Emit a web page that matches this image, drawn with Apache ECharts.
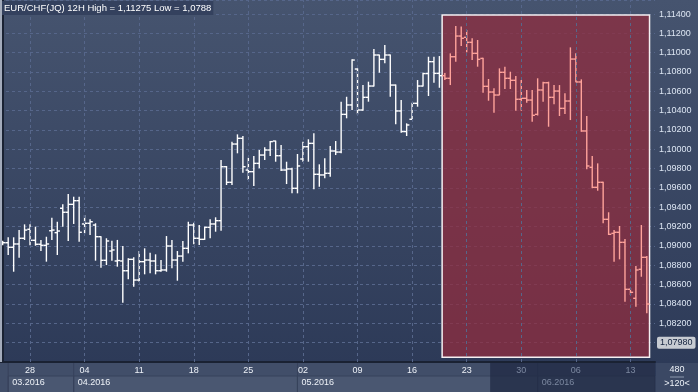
<!DOCTYPE html>
<html><head><meta charset="utf-8">
<script src="https://cdn.jsdelivr.net/npm/echarts@6/dist/echarts.min.js"></script>
<style>html,body{margin:0;padding:0;background:#33405d;}#c{width:698px;height:392px;}</style>
</head><body><div id="c"></div>
<script>
// ---- data (12H bars, EUR/CHF) ----
const tickIdx = [5,15,25,35,45,55,65,75,85,95,105,115];
const tickLabels = ['28','04','11','18','25','02','09','16','23','30','06','13'];
const monthIdx = [1,13,54,98];
const monthLabels = ['03.2016','04.2016','05.2016','06.2016'];
const open = [1.09028,1.09034,1.08987,1.09021,1.09080,1.09173,1.09059,1.09018,1.09007,1.09158,
1.09138,1.09390,1.09349,1.09431,1.09469,1.09228,1.09235,1.09217,1.09096,1.08852,
1.08948,1.08845,1.08845,1.08744,1.08862,1.08648,1.08838,1.08855,1.08845,1.08744,
1.08752,1.09000,1.08855,1.08896,1.08976,1.09217,1.09080,1.09069,1.09193,1.09228,
1.09262,1.09820,1.09659,1.10055,1.10114,1.09786,1.09769,1.09855,1.09941,1.09993,
1.10086,1.09934,1.09786,1.09797,1.09597,1.09900,1.10027,1.10062,1.09742,1.09735,
1.09752,1.09983,1.09972,1.10362,1.10459,1.10831,1.10407,1.10538,1.10655,1.10976,
1.10931,1.10976,1.10665,1.10397,1.10184,1.10311,1.10476,1.10655,1.10784,1.10907,
1.10786,1.10762,1.10735,1.10958,1.11172,1.11159,1.11107,1.10993,1.10941,1.10652,
1.10593,1.10562,1.10797,1.10735,1.10714,1.10518,1.10528,1.10510,1.10362,1.10614,
1.10689,1.10538,1.10603,1.10424,1.10500,1.10934,1.10697,1.10190,1.09814,1.09607,
1.09659,1.09276,1.09131,1.09142,1.09038,1.08552,1.08459,1.08759,1.08883];
const high = [1.09055,1.09090,1.09090,1.09165,1.09224,1.09224,1.09200,1.09063,1.09096,1.09293,
1.09251,1.09431,1.09538,1.09510,1.09510,1.09321,1.09276,1.09235,1.09100,1.09080,
1.09055,1.09063,1.09000,1.08873,1.08883,1.08948,1.08976,1.08931,1.08914,1.08855,
1.09103,1.09063,1.08948,1.09052,1.09251,1.09241,1.09217,1.09200,1.09276,1.09297,
1.09890,1.09828,1.10079,1.10155,1.10138,1.09913,1.09931,1.09993,1.10021,1.10086,
1.10090,1.10045,1.09872,1.09810,1.09952,1.10079,1.10104,1.10166,1.09845,1.09907,
1.10034,1.10086,1.10493,1.10544,1.10931,1.10838,1.10665,1.10700,1.11038,1.10980,
1.11079,1.10980,1.10670,1.10510,1.10269,1.10482,1.10717,1.10793,1.10958,1.10958,
1.10965,1.10790,1.10993,1.11275,1.11270,1.11234,1.11149,1.11131,1.10948,1.10728,
1.10631,1.10838,1.10855,1.10803,1.10759,1.10717,1.10614,1.10614,1.10735,1.10700,
1.10700,1.10665,1.10665,1.10580,1.11055,1.10993,1.10724,1.10345,1.09931,1.09855,
1.09665,1.09349,1.09165,1.09207,1.09072,1.08565,1.08793,1.09217,1.08896];
const low = [1.09007,1.08907,1.08734,1.08879,1.09062,1.09007,1.09003,1.08948,1.08838,1.09063,
1.08907,1.09200,1.09052,1.09228,1.09044,1.09131,1.09114,1.08848,1.08775,1.08803,
1.08848,1.08786,1.08413,1.08655,1.08579,1.08631,1.08707,1.08718,1.08707,1.08734,
1.08734,1.08769,1.08641,1.08838,1.08924,1.09018,1.09010,1.09063,1.09080,1.09148,
1.09158,1.09631,1.09631,1.09959,1.09758,1.09683,1.09621,1.09804,1.09890,1.09931,
1.09872,1.09776,1.09641,1.09545,1.09545,1.09872,1.09872,1.09586,1.09613,1.09700,
1.09717,1.09941,1.09960,1.10321,1.10407,1.10362,1.10400,1.10493,1.10650,1.10793,
1.10890,1.10544,1.10259,1.10172,1.10138,1.10305,1.10441,1.10650,1.10552,1.10689,
1.10637,1.10717,1.10665,1.10907,1.11069,1.11004,1.10924,1.10855,1.10586,1.10503,
1.10379,1.10560,1.10624,1.10624,1.10400,1.10400,1.10482,1.10286,1.10350,1.10493,
1.10234,1.10466,1.10345,1.10366,1.10303,1.10693,1.10182,1.09793,1.09597,1.09572,
1.09235,1.09114,1.08838,1.08862,1.08424,1.08493,1.08372,1.08682,1.08304];
const close = [1.09034,1.08987,1.09021,1.09080,1.09165,1.09059,1.09018,1.09007,1.09021,1.09165,
1.09155,1.09349,1.09431,1.09469,1.09142,1.09235,1.09251,1.09096,1.08852,1.09052,
1.08959,1.08850,1.08744,1.08862,1.08648,1.08838,1.08855,1.08845,1.08744,1.08752,
1.09000,1.08855,1.08896,1.08976,1.09217,1.09080,1.09069,1.09193,1.09228,1.09262,
1.09820,1.09659,1.10055,1.10114,1.09820,1.09769,1.09855,1.09941,1.09993,1.10080,
1.09934,1.09786,1.09797,1.09597,1.09828,1.10027,1.10062,1.09742,1.09735,1.09752,
1.09983,1.09972,1.10362,1.10459,1.10924,1.10407,1.10538,1.10655,1.10976,1.10931,
1.10976,1.10665,1.10397,1.10184,1.10252,1.10476,1.10655,1.10784,1.10907,1.10786,
1.10762,1.10735,1.10958,1.11172,1.11149,1.11107,1.10993,1.10931,1.10652,1.10593,
1.10562,1.10797,1.10735,1.10714,1.10518,1.10528,1.10510,1.10352,1.10614,1.10689,
1.10538,1.10603,1.10424,1.10500,1.10934,1.10697,1.10190,1.09828,1.09607,1.09659,
1.09276,1.09121,1.09142,1.09038,1.08552,1.08521,1.08752,1.08883,1.08400];
const lastPrice = 1.0798;
const zone = { from: 80.5, to: 118.5, top: 1.1139, bottom: 1.0785 };
const shadeFrom = 89.3;
const titleText = 'EUR/CHF(JQ) 12H High = 1,11275 Low = 1,0788';

// ---- chart ----
const W = 698, H = 392, AX_R = 43, AX_B = 30;
const chart = echarts.init(document.getElementById('c'), null, { renderer: 'canvas' });
const ohlc = open.map((o, i) => [i, o, high[i], low[i], close[i]]);
const fmtY = v => v.toFixed(5).replace('.', ',');
const dim = '#7c88a0', bright = '#eef2f8';
const FONT = "'Liberation Sans', Arial, sans-serif";

const xCommon = { type: 'value', min: -0.5, max: 119.5, gridIndex: 0, position: 'bottom', splitLine: { show: false } };

const option = {
  animation: false,
  backgroundColor: new echarts.graphic.LinearGradient(0, 0, 0, 1, [
    { offset: 0, color: '#46546f' }, { offset: 1, color: '#2b3856' }]),
  title: {
    text: titleText, left: 2, top: 1, padding: [2, 2],
    backgroundColor: '#34415e',
    textStyle: { color: '#ffffff', fontSize: 9.5, fontWeight: 'normal', fontFamily: FONT }
  },
  grid: { left: 0, right: AX_R, top: 0, bottom: AX_B, containLabel: false },
  xAxis: [
    Object.assign({}, xCommon, {
      axisLine: { show: true, lineStyle: { color: '#1a2233', width: 2 } },
      axisTick: { show: false },
      axisLabel: {
        customValues: tickIdx, margin: 4, fontSize: 9, fontFamily: FONT,
        formatter: v => tickLabels[tickIdx.indexOf(v)],
        color: v => (v >= shadeFrom ? dim : bright)
      }
    }),
    Object.assign({}, xCommon, {
      axisLine: { show: false }, axisTick: { show: false },
      axisLabel: {
        customValues: monthIdx, margin: 16, fontSize: 9, fontFamily: FONT, align: 'left',
        padding: [0, 0, 0, 4],
        formatter: v => monthLabels[monthIdx.indexOf(v)],
        color: v => (v >= shadeFrom ? dim : bright)
      }
    })
  ],
  yAxis: {
    type: 'value', position: 'right', min: 1.078, max: 1.11545, interval: 0.002,
    axisLine: { show: true, lineStyle: { color: '#1a2233', width: 2 } },
    axisTick: { show: false },
    axisLabel: { margin: 4, fontSize: 9, fontFamily: FONT, color: '#dde6f3', formatter: fmtY,
      showMinLabel: false, showMaxLabel: false },
    splitLine: { show: true, lineStyle: { color: '#56668a', type: [3, 3], width: 1 } }
  },
  series: [
    {
      type: 'custom', name: 'EUR/CHF', data: ohlc, clip: true,
      encode: { x: 0, y: [1, 2, 3, 4] },
      renderItem: (params, api) => {
        const i = api.value(0);
        const pH = api.coord([i, api.value(2)]), pL = api.coord([i, api.value(3)]);
        const pO = api.coord([i, api.value(1)]), pC = api.coord([i, api.value(4)]);
        const t = api.size([1, 0])[0] / 2;
        const col = i >= zone.from ? '#ffa39b' : '#ffffff';
        const st = { stroke: col, lineWidth: 1.4 };
        return { type: 'group', children: [
          { type: 'line', shape: { x1: pH[0], y1: pH[1], x2: pL[0], y2: pL[1] }, style: st },
          { type: 'line', shape: { x1: pO[0] - t, y1: pO[1], x2: pO[0], y2: pO[1] }, style: st },
          { type: 'line', shape: { x1: pC[0], y1: pC[1], x2: pC[0] + t, y2: pC[1] }, style: st }
        ] };
      },
      markArea: {
        silent: true,
        itemStyle: { color: 'rgba(145,45,62,0.74)', borderColor: '#f4f0f2', borderWidth: 1.5 },
        data: [[{ xAxis: zone.from, yAxis: zone.top }, { xAxis: zone.to, yAxis: zone.bottom }]]
      }
    },
    {
      type: 'line', data: [], silent: true,
      markLine: {
        silent: true, symbol: 'none', animation: false,
        data: tickIdx.map(v => ({ xAxis: v, label: { show: false },
          lineStyle: { color: '#56668a', type: [3, 3], width: 1 } }))
      }
    },
    {
      type: 'line', data: [], silent: true, z: 10,
      markLine: {
        silent: true, symbol: 'none', animation: false,
        lineStyle: { color: 'rgba(0,0,0,0)', width: 1, type: 'solid' },
        label: { show: true, position: 'end', distance: 2, formatter: fmtY(lastPrice),
          backgroundColor: '#c7cbd2', color: '#13213d', fontSize: 9, fontFamily: FONT,
          padding: [2, 3, 1, 3], borderRadius: 2 },
        data: [{ yAxis: lastPrice }]
      }
    }
  ]
};
chart.setOption(option);

// ---- chrome (panels) positioned through the x scale ----
const px = v => chart.convertToPixel({ xAxisIndex: 0 }, v);
const plotR = W - AX_R, stripT = H - AX_B + 1;
const g = [];
g.push({ type: 'rect', z: -5, shape: { x: 0, y: stripT, width: plotR, height: AX_B }, style: { fill: '#414e69' } });
monthIdx.forEach((m, k) => {
  const x0 = px(m), x1 = k + 1 < monthIdx.length ? px(monthIdx[k + 1]) : plotR;
  g.push({ type: 'rect', z: -4, shape: { x: x0, y: stripT + 13, width: x1 - x0, height: AX_B - 13 },
    style: { fill: '#4a5771', stroke: '#37425c', lineWidth: 1 } });
  g.push({ type: 'line', z: -4, shape: { x1: x0, y1: stripT, x2: x0, y2: H }, style: { stroke: '#37425c', lineWidth: 1 } });
});
g.push({ type: 'rect', z: -3, shape: { x: px(shadeFrom), y: stripT, width: plotR - px(shadeFrom), height: AX_B },
  style: { fill: 'rgba(30,40,66,0.72)' } });
g.push({ type: 'rect', z: -5, shape: { x: plotR + 1, y: stripT, width: AX_R, height: AX_B }, style: { fill: '#3b4864' } });
g.push({ type: 'text', z: 5, style: { text: '480', x: plotR + 22, y: stripT + 7, fill: '#eef2f8', font: "9px " + FONT, align: 'center', verticalAlign: 'middle' } });
g.push({ type: 'line', z: 5, shape: { x1: plotR + 15, y1: stripT + 14, x2: plotR + 29, y2: stripT + 14 }, style: { stroke: '#8d98ad', lineWidth: 1 } });
g.push({ type: 'text', z: 5, style: { text: '>120<', x: plotR + 22, y: stripT + 21, fill: '#eef2f8', font: "9px " + FONT, align: 'center', verticalAlign: 'middle' } });
g.push({ type: 'rect', z: 5, shape: { x: 0, y: 0, width: 2, height: H - AX_B }, style: { fill: '#a3abbb' } });
chart.setOption({ graphic: { elements: g } });
</script></body></html>
